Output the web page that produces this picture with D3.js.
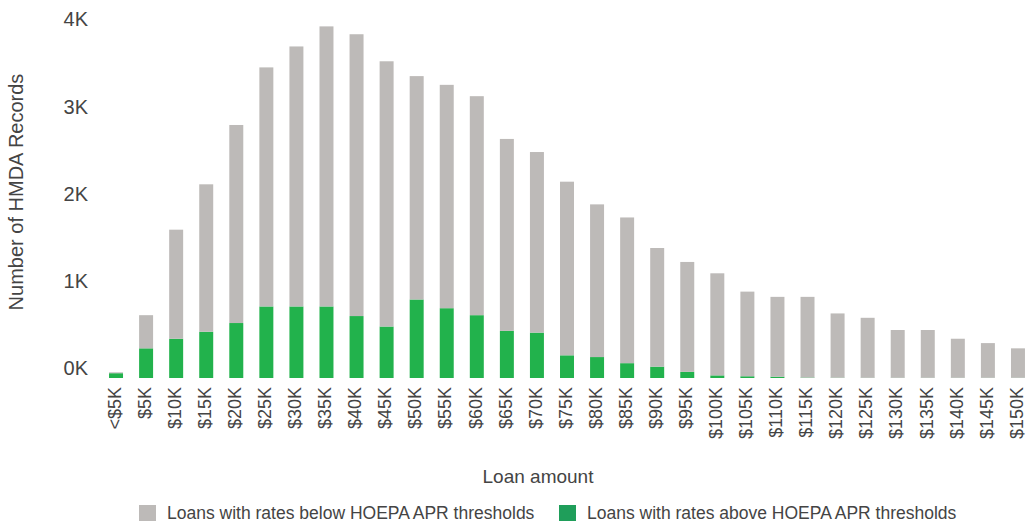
<!DOCTYPE html>
<html lang="en">
<head>
<meta charset="utf-8">
<title>HMDA records by loan amount</title>
<style>
  body { margin: 0; background: #fff; }
  text { font-family: "Liberation Sans", Arial, sans-serif; fill: #444; }
</style>
</head>
<body>
<div id="chart"></div>
<script src="https://cdn.jsdelivr.net/npm/d3@7"></script>
<script>
// loan amount buckets
var categories = ["<$5K", "$5K", "$10K", "$15K", "$20K", "$25K", "$30K", "$35K", "$40K", "$45K",
  "$50K", "$55K", "$60K", "$65K", "$70K", "$75K", "$80K", "$85K", "$90K", "$95K",
  "$100K", "$105K", "$110K", "$115K", "$120K", "$125K", "$130K", "$135K", "$140K", "$145K", "$150K"];

// loans below HOEPA APR thresholds (gray)
var belowValues = [10, 380, 1250, 1690, 2270, 2740, 2980, 3210, 3230, 3040,
  2560, 2560, 2510, 2200, 2070, 1990, 1750, 1670, 1360, 1260,
  1170, 970, 915, 925, 737, 688, 548, 548, 448, 398, 338];

// loans above HOEPA APR thresholds (green)
var aboveValues = [55, 340, 450, 530, 630, 820, 820, 820, 710, 590,
  900, 800, 720, 540, 520, 260, 240, 170, 130, 70,
  30, 20, 15, 5, 3, 2, 2, 2, 2, 2, 2];

var yTicks = [0, 1000, 2000, 3000, 4000];
var yTickLabels = ["0K", "1K", "2K", "3K", "4K"];

var seriesNames = ["Loans with rates below HOEPA APR thresholds", "Loans with rates above HOEPA APR thresholds"];

var width = 1028, height = 522;
var gray = "#bdbab8", green = "#22b24c";

var svg = d3.select("#chart").append("svg")
    .attr("width", width)
    .attr("height", height);

var x = d3.scaleBand()
    .domain(categories)
    .range([101, 1033])
    .paddingInner(0.535)
    .paddingOuter(0.2675);

var y = d3.scaleLinear()
    .domain([0, 4000])
    .range([378, 29]);

var rows = categories.map(function(c, i) {
  return { cat: c, above: aboveValues[i], below: belowValues[i] };
});

var stack = d3.stack().keys(["above", "below"]);
var layers = stack(rows);
var colors = { above: green, below: gray };

svg.selectAll(".layer")
    .data(layers)
  .enter().append("g")
    .attr("class", "layer")
    .attr("fill", function(d) { return colors[d.key]; })
  .selectAll("rect")
    .data(function(d) { return d; })
  .enter().append("rect")
    .attr("x", function(d) { return x(d.data.cat); })
    .attr("width", x.bandwidth())
    .attr("y", function(d) { return y(d[1]); })
    .attr("height", function(d) { return y(d[0]) - y(d[1]); });

// y axis labels (sit a little above their value)
svg.selectAll(".ytick")
    .data(yTicks)
  .enter().append("text")
    .attr("class", "ytick")
    .attr("x", 88)
    .attr("y", function(d) { return y(d) - 8; })
    .attr("text-anchor", "end")
    .attr("dominant-baseline", "middle")
    .style("font-size", "20px")
    .text(function(d, i) { return yTickLabels[i]; });

// x axis labels, rotated
svg.selectAll(".xtick")
    .data(categories)
  .enter().append("text")
    .attr("class", "xtick")
    .attr("transform", function(d) {
      return "translate(" + (x(d) + x.bandwidth() / 2) + ",387) rotate(-90)";
    })
    .attr("text-anchor", "end")
    .attr("dominant-baseline", "middle")
    .style("font-size", "18px")
    .text(function(d) { return d; });

// axis titles
svg.append("text")
    .attr("transform", "translate(18,192) rotate(-90)")
    .attr("text-anchor", "middle")
    .attr("dominant-baseline", "middle")
    .style("font-size", "20px")
    .text("Number of HMDA Records");

svg.append("text")
    .attr("x", 538)
    .attr("y", 478)
    .attr("text-anchor", "middle")
    .attr("dominant-baseline", "middle")
    .style("font-size", "19px")
    .text("Loan amount");

// legend
var legend = svg.selectAll(".legend")
    .data(seriesNames)
  .enter().append("g")
    .attr("class", "legend")
    .attr("transform", function(d, i) { return "translate(" + [139, 559][i] + ",513)"; });

legend.append("rect")
    .attr("x", 0)
    .attr("y", -8)
    .attr("width", 17)
    .attr("height", 16)
    .attr("fill", function(d, i) { return i === 0 ? gray : "#1f9e5a"; });

legend.append("text")
    .attr("x", 28)
    .attr("y", 1)
    .attr("dominant-baseline", "middle")
    .style("font-size", "17.5px")
    .text(function(d) { return d; });
</script>
</body>
</html>
